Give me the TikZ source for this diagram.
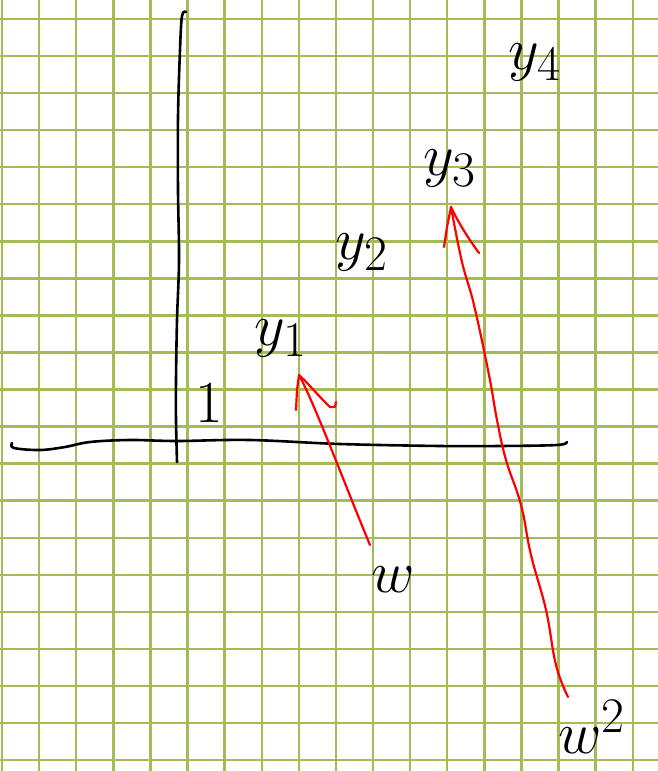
\documentclass[tikz,border=0pt]{standalone}
\usepackage{tikz}
\definecolor{sketchGrid}{HTML}{A3BC58}
\definecolor{sketchRed}{HTML}{FF0000}
\tikzset{
  grid line/.style={draw=sketchGrid, line width=2.4pt},
  axis line/.style={draw=black, line width=2.6pt, line cap=round,
    line join=round},
  red stroke/.style={draw=sketchRed, line width=2.2pt, line cap=round,
    line join=round},
  hand text/.style={font=\Huge, scale=2.4, inner sep=0pt}
}

\begin{document}
\begin{tikzpicture}[x=1pt, y=-1pt]
  \useasboundingbox[fill=white] (0,0) rectangle (658,771);
  % squared paper
  \foreach \i in {0,...,17}
    \draw[grid line] ({2+37.1*\i},0) -- ({2+37.1*\i},771);
  \foreach \j in {0,...,20}
    \draw[grid line] (0,{19+37.05*\j}) -- (658,{19+37.05*\j});
  % axes
  \draw[axis line] plot[smooth, tension=0.6] coordinates {(12,443) (14,448)
    (40,450) (65,447) (90,442) (130,440) (177,441) (250,440) (340,444)
    (440,446) (500,446) (557,445) (567,442)};
  \draw[axis line] plot[smooth, tension=0.6] coordinates {(186,12) (182,16)
    (180,50) (178,117) (178,190) (179,260) (177,320) (176,380)
    (176,420) (177,462)};
  % labels
  \node[hand text] (one) at (209,403) {$1$};
  \node[hand text] (y1) at (281,338) {$y_1$};
  \node[hand text] (y2) at (362,252) {$y_2$};
  \node[hand text] (y3) at (450,168) {$y_3$};
  \node[hand text] (y4) at (535,62) {$y_4$};
  \node[hand text] (w) at (393,580) {$w$};
  \node[hand text] (w2) at (592,727) {$w^2$};
  % arrow ends
  \coordinate (w tail) at (370,545);
  \coordinate (y1 tip) at (299,375);
  \coordinate (w2 tail) at (568,697);
  \coordinate (y3 tip) at (451,207);
  % w -> y1
  \draw[red stroke] (w tail) .. controls (347,490) and (314,402) .. (y1 tip);
  \draw[red stroke] (296,410) -- (297,390) -- (y1 tip);
  \draw[red stroke] (y1 tip) .. controls (310,385) and (322,400) .. (330,407)
    -- (335,407) -- (336,402);
  % w^2 -> y3
  \draw[red stroke] plot[smooth, tension=0.7] coordinates {(w2 tail)
    (556,665) (546,610) (531,555) (521,505) (506,460) (497,420) (489,375)
    (474,305) (462,262) (y3 tip)};
  \draw[red stroke] (444,247) -- (447,227) -- (y3 tip);
  \draw[red stroke] (y3 tip) .. controls (458,222) and (468,238) .. (479,253);
\end{tikzpicture}
\end{document}
